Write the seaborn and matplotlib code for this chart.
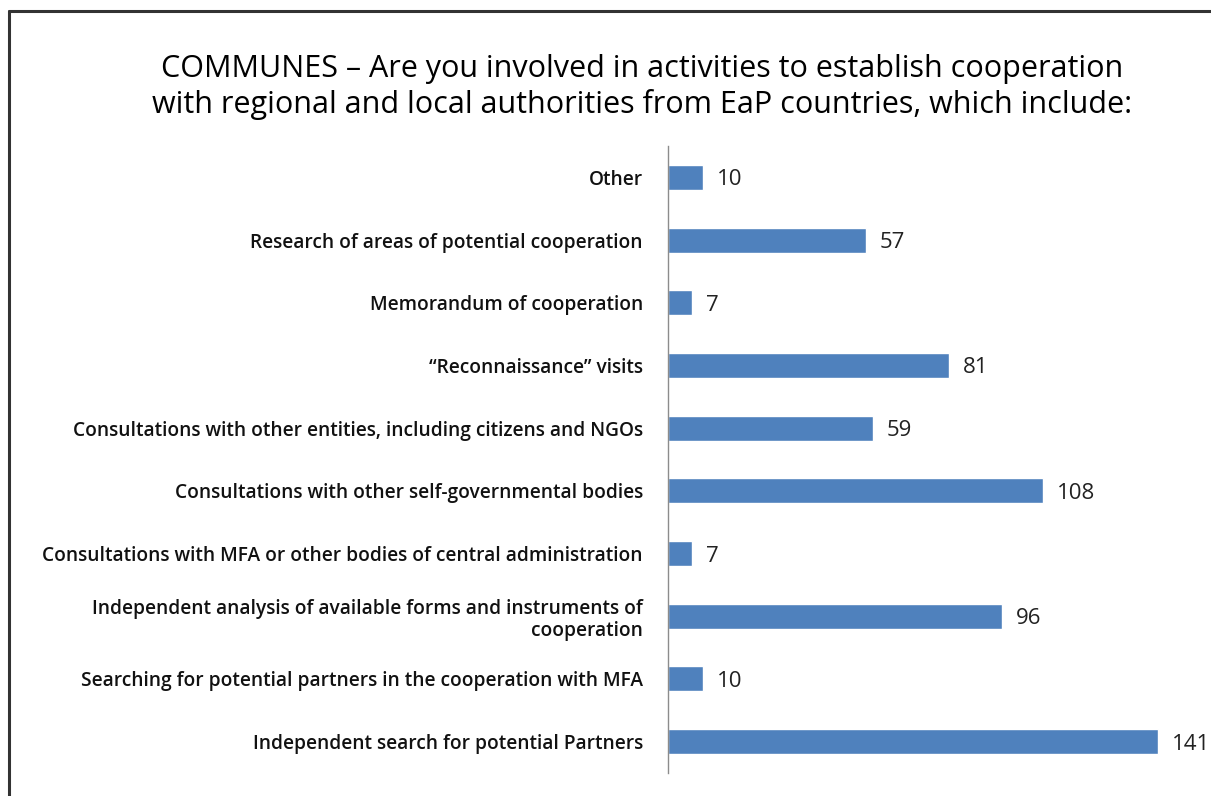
import matplotlib
matplotlib.use("Agg")
import matplotlib.pyplot as plt
import seaborn as sns
import pandas as pd
from matplotlib.lines import Line2D

categories = [
    "Other",
    "Research of areas of potential cooperation",
    "Memorandum of cooperation",
    "\u201cReconnaissance\u201d visits",
    "Consultations with other entities, including citizens and NGOs",
    "Consultations with other self-governmental bodies",
    "Consultations with MFA or other bodies of central administration",
    "Independent analysis of available forms and instruments of\ncooperation",
    "Searching for potential partners in the cooperation with MFA",
    "Independent search for potential Partners",
]
counts = [10, 57, 7, 81, 59, 108, 7, 96, 10, 141]

title = ("COMMUNES \u2013 Are you involved in activities to establish cooperation\n"
         "with regional and local authorities from EaP countries, which include:")

sns.set_theme(style="white")
plt.rcParams["font.family"] = ["Open Sans", "DejaVu Sans"]

df = pd.DataFrame({"category": categories, "count": counts})

W, H = 1211, 796
fig = plt.figure(figsize=(W / 100, H / 100), dpi=100)
ax = fig.add_axes([668 / W, 23 / H, (W - 668) / W, (650 - 23) / H])

sns.barplot(data=df, x="count", y="category", color="#4F81BD", width=0.4,
            saturation=1, ax=ax, orient="h")

ax.set_xlim(0, (W - 668) / 3.475)
ax.set_ylim(len(categories) - 0.5, -0.5)
ax.set_xlabel("")
ax.set_ylabel("")
ax.set_xticks([])
for s in ["top", "right", "bottom"]:
    ax.spines[s].set_visible(False)
ax.spines["left"].set_color("#8c8c8c")
ax.spines["left"].set_linewidth(1.0)
ax.set_yticks(range(len(categories)))
ax.set_yticklabels(categories, fontsize=13.8, fontweight="semibold",
                   color="#111111", ha="right", linespacing=1.15)
ax.tick_params(axis="y", length=0, pad=18)

for i, v in enumerate(counts):
    ax.text(v + 4.0, i + 0.04, str(v), va="center", ha="left", fontsize=16,
            color="#222222", clip_on=False)

fig.text(642 / W, 1 - 87 / H, title, ha="center", va="center", fontsize=22,
         color="#000000", linespacing=1.2)

# frame around the chart
fig.add_artist(Line2D([9 / W, 9 / W], [0, 1 - 11 / H], transform=fig.transFigure,
                      color="#333333", lw=2.2))
fig.add_artist(Line2D([9 / W, 1.0], [1 - 11 / H, 1 - 11 / H], transform=fig.transFigure,
                      color="#333333", lw=2.2))

fig.savefig("out.png", dpi=100, facecolor="white")
